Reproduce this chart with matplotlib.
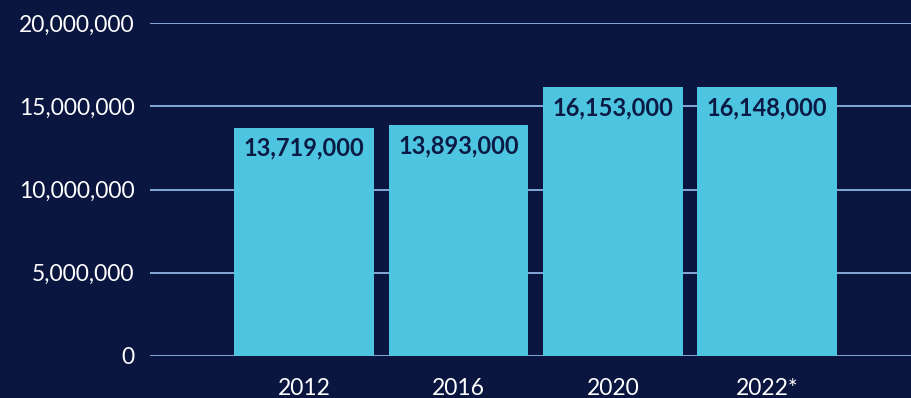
import matplotlib
matplotlib.use("Agg")
import matplotlib.pyplot as plt
from matplotlib.ticker import FuncFormatter

categories = ["2012", "2016", "2020", "2022*"]
values = [13719000, 13893000, 16153000, 16148000]
yticks = [0, 5000000, 10000000, 15000000, 20000000]

BG = "#0a1540"
BAR = "#4dc5e0"
GRID = "#8db4e2"
LABEL = "#0b1a45"

plt.rcParams['font.family'] = ['Lato', 'DejaVu Sans']

fig = plt.figure(figsize=(9.12, 3.98), dpi=100, facecolor=BG)
ax = fig.add_axes([150/912, 42/398, 762/912, 333/398], facecolor=BG)

x = list(range(len(categories)))
bars = ax.bar(x, values, width=0.907, color=BAR, zorder=3)

ax.set_xlim(-1.0, 3.94)
ax.set_ylim(0, 20000000)
ax.set_yticks(yticks)
ax.yaxis.set_major_formatter(FuncFormatter(lambda v, p: f"{int(v):,}"))
ax.set_xticks(x)
ax.set_xticklabels(categories)
ax.grid(axis='y', color=GRID, linewidth=1.3, zorder=0)
ax.set_axisbelow(True)
for s in ax.spines.values():
    s.set_visible(False)
ax.tick_params(axis='both', length=0, colors='white', labelsize=16.5)
ax.tick_params(axis='y', pad=11)
ax.tick_params(axis='x', pad=16)

for b, v in zip(bars, values):
    ax.annotate(f"{v:,}", xy=(b.get_x() + b.get_width()/2, v),
                xytext=(0, -15), textcoords='offset points',
                ha='center', va='center', fontsize=17, fontweight='bold',
                color=LABEL, zorder=4)

fig.savefig("out.png", dpi=100, facecolor=BG)
